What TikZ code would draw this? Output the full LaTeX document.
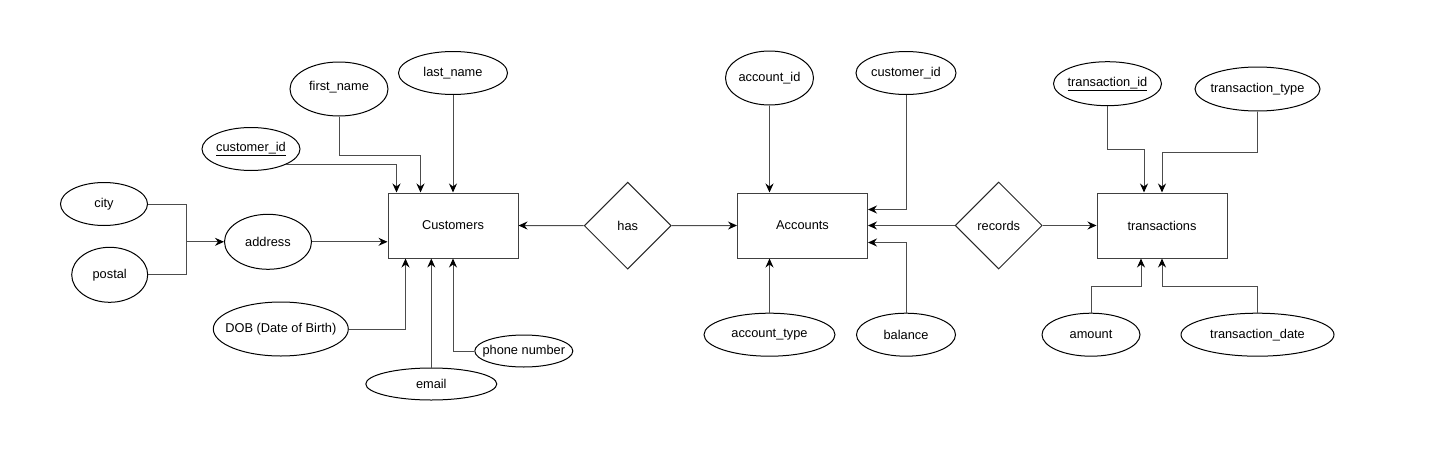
\documentclass[tikz,border=0pt]{standalone}
\usepackage{fontspec}
\setmainfont{Liberation Sans}
\usepackage{tikz}
\usetikzlibrary{shapes.geometric,arrows.meta}
\tikzset{entity/.style={draw=black!75, minimum width=130pt, minimum height=65pt, inner sep=0pt},
attr/.style 2 args={ellipse, draw=black, minimum width=#1pt, minimum height=#2pt, inner sep=0pt,
  execute at begin node={\hbox to 0pt\bgroup\hss}, execute at end node={\hss\egroup}},
rel/.style={diamond, draw=black!85, aspect=1, minimum width=87pt, minimum height=87pt, inner sep=0pt},
conn/.style={draw=black!70},
%arrowed connector
arr/.style={conn, -{Stealth[length=9pt,width=8pt,inset=3pt,black]}}}

\begin{document}
\begin{tikzpicture}[x=1pt, y=-1pt, line width=1pt, every node/.style={font=\fontsize{12.8}{15}\selectfont}]
\useasboundingbox (0,0) rectangle (1429,463);
%entities and relations
\node[entity] (cust) at (453,225.5) {Customers};
\node[entity] (acc) at (802.5,225.5) {Accounts};
\node[entity] (trans) at (1162,225.5) {transactions};
\node[rel] (has) at (627.7,225.7) {has};
\node[rel] (rec) at (998.7,225.5) {records};
%attributes of Customers
\node[attr={87}{43}] (city) at (104,204) {city};
\node[attr={76}{55}] (postal) at (109.7,274.8) {postal};
\node[attr={87}{55}] (address) at (268,241.8) {address};
\node[attr={98}{43}] (cid1) at (251,149) {\underline{customer\_id}};
\node[attr={98}{54}] (fname) at (339,89) {\raisebox{7pt}{first\_name}};
\node[attr={109}{43}] (lname) at (453,73) {last\_name};
\node[attr={135}{54}] (dob) at (280.8,329) {DOB (Date of Birth)};
\node[attr={131}{32}] (email) at (431.3,384) {email};
\node[attr={98}{32}] (phone) at (523.8,351) {phone number};
%attributes of Accounts
\node[attr={88}{54}] (accid) at (769.5,78) {account\_id};
\node[attr={100}{43}] (cid2) at (906,73) {customer\_id};
\node[attr={131}{43}] (acctype) at (769.5,334.7) {account\_type};
\node[attr={99}{43}] (bal) at (906,334.7) {balance};
%attributes of transactions
\node[attr={108}{44}] (tid) at (1107.5,83.7) {\underline{transaction\_id}};
\node[attr={125}{44}] (ttype) at (1257.5,89) {transaction\_type};
\node[attr={98}{43}] (amt) at (1091,334.7) {amount};
\node[attr={153}{43}] (tdate) at (1257.5,334.7) {transaction\_date};
\coordinate (jn) at (186,241.8);
%connectors
\draw[conn] (city.east) -| (jn);
\draw[conn] (postal.east) -| (jn);
\draw[arr] (jn) -- (address.west);
\draw[arr] (address.east) -- (address.east -| cust.west);
\draw[arr] (cid1.-24) -| ([xshift=9pt]cust.north west);
\draw[arr] (fname.south) -- (fname.south |- 0,155) -| ([xshift=33pt]cust.north west);
\draw[arr] (lname.south) -- (cust.north);
\draw[arr] (dob.east) -| ([xshift=18pt]cust.south west);
\draw[arr] (email.north) -- (email.north |- cust.south);
\draw[arr] (phone.west) -| (cust.south);
\draw[arr] (has.west) -- (cust.east);
\draw[arr] (has.east) -- (acc.west);
\draw[arr] (accid.south) -- (accid.south |- acc.north);
\draw[arr] (cid2.south) |- ([yshift=16pt]acc.east);
\draw[arr] (acctype.north) -- (acctype.north |- acc.south);
\draw[arr] (bal.north) |- ([yshift=-17pt]acc.east);
\draw[arr] (rec.west) -- (acc.east);
\draw[arr] (rec.east) -- (trans.west);
\draw[arr] (tid.south) -- (tid.south |- 0,149) -| ([xshift=-18pt]trans.north);
\draw[arr] (ttype.south) -- (ttype.south |- 0,152) -| (trans.north);
\draw[arr] (amt.north) -- (amt.north |- 0,286) -| ([xshift=-21pt]trans.south);
\draw[arr] (tdate.north) -- (tdate.north |- 0,286) -| (trans.south);
\end{tikzpicture}
\end{document}
